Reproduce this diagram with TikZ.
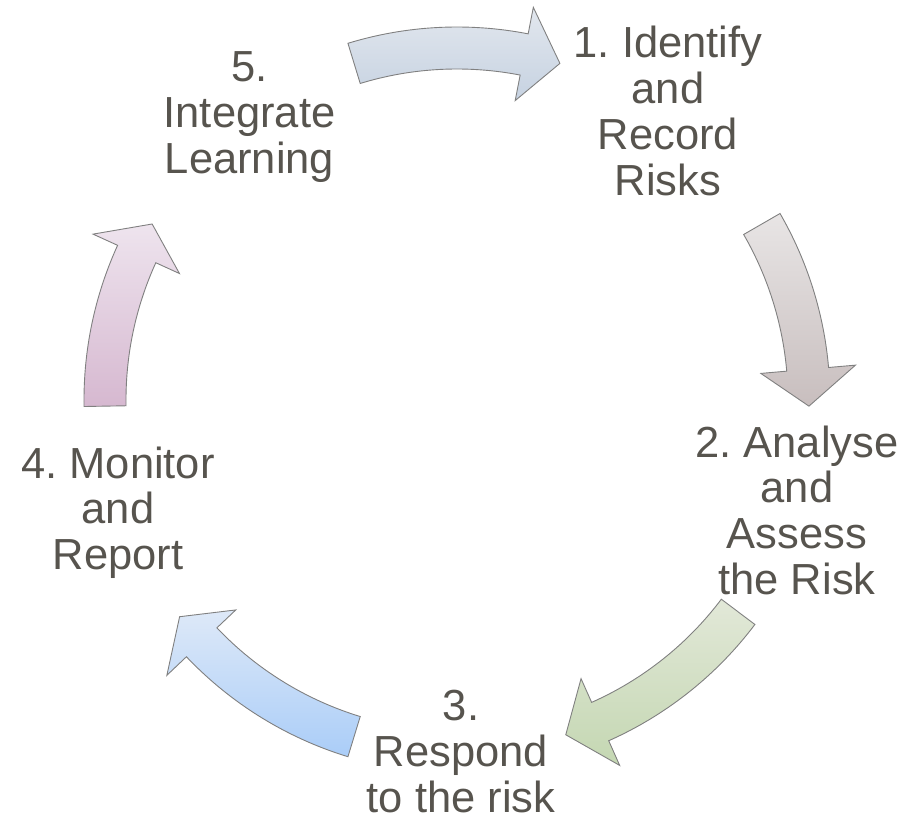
\documentclass[tikz,border=0pt]{standalone}
\usepackage{fontspec}
\setmainfont{Liberation Sans}
\frenchspacing
\definecolor{txtgray}{RGB}{87,84,78}
\definecolor{arrline}{RGB}{128,128,128}
\definecolor{aOneTop}{RGB}{226,231,238}
\definecolor{aOneBot}{RGB}{198,210,225}
\definecolor{aTwoTop}{RGB}{232,229,229}
\definecolor{aTwoBot}{RGB}{200,190,190}
\definecolor{aThreeTop}{RGB}{226,232,216}
\definecolor{aThreeBot}{RGB}{196,215,178}
\definecolor{aFourTop}{RGB}{222,233,248}
\definecolor{aFourBot}{RGB}{170,205,248}
\definecolor{aFiveTop}{RGB}{238,228,238}
\definecolor{aFiveBot}{RGB}{214,184,208}
% #1 style, #2 tail angle, #3 head base angle, #4 tip angle
\newcommand\cyclearrow[4]{%
  \path[arr,#1] (#2:373) arc[start angle=#2, end angle=#3, radius=373]
    -- (#3:400) -- (#4:352) -- (#3:305) -- (#3:331)
    arc[start angle=#3, end angle=#2, radius=331] -- cycle;}
% centred lines, baseline of the node = baseline of the first line
\newcommand\lbltext[1]{\vtop{\halign{\hfil##\hfil\cr#1\crcr}}}
\begin{document}
\begin{tikzpicture}[x=1pt,y=1pt,
  lbl/.style={inner sep=0pt, anchor=base, text=txtgray,
    font=\fontsize{43.5}{46}\selectfont},
  arr/.style={draw=arrline, line width=0.9pt, line join=miter}]
\useasboundingbox (-457,-422) rectangle (457,400);
\cyclearrow{top color=aOneTop, bottom color=aOneBot}{107}{79}{73}
\cyclearrow{top color=aTwoTop, bottom color=aTwoBot}{30}{5}{-1}
\cyclearrow{top color=aThreeTop, bottom color=aThreeBot}{-37}{-66}{-72}
\cyclearrow{top color=aFourTop, bottom color=aFourBot}{-107}{-136.5}{-142}
\cyclearrow{top color=aFiveTop, bottom color=aFiveBot}{181}{155.5}{150}
\node[lbl] (l1) at (211,342) {\lbltext{1. Identify\cr and\cr Record\cr Risks}};
\node[lbl] (l2) at (340,-57) {\lbltext{2. Analyse\cr and\cr Assess\cr the Risk}};
\node[lbl] (l3) at (4,-320) {\lbltext{3.\cr Respond\cr to the risk}};
\node[lbl] (l4) at (-339,-78) {\lbltext{4. Monitor\cr and\cr Report}};
\node[lbl] (l5) at (-207.5,318) {\lbltext{5.\cr Integrate\cr Learning}};
\end{tikzpicture}
\end{document}
